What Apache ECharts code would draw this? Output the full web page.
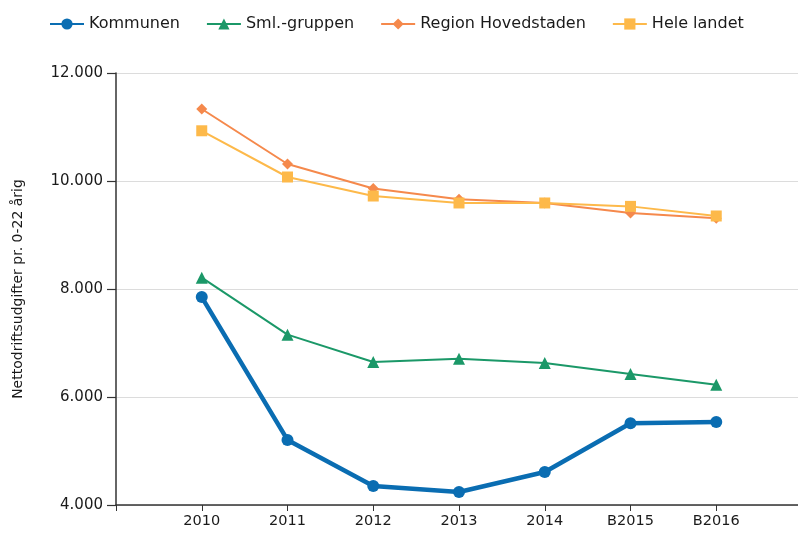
<!DOCTYPE html>
<html>
<head>
<meta charset="utf-8">
<script src="https://cdn.jsdelivr.net/npm/echarts@6/dist/echarts.min.js"></script>
<style>
  html, body { margin: 0; padding: 0; background: #fff; }
  #chart { width: 798px; height: 533px; }
</style>
</head>
<body>
<div id="chart"></div>
<script>
// kategorier (år) og serier
var years = ["2010", "2011", "2012", "2013", "2014", "B2015", "B2016"];
var kommunen = [7850, 5205, 4350, 4240, 4610, 5515, 5537];
var smlGruppen = [8210, 7155, 6648, 6710, 6630, 6426, 6225];
var regionHovedstaden = [11333, 10315, 9860, 9660, 9593, 9407, 9310];
var heleLandet = [10930, 10074, 9722, 9593, 9593, 9530, 9352];
var yTicks = [4000, 6000, 8000, 10000, 12000];

var font = "DejaVu Sans, Verdana, sans-serif";

// tom kategori i hver ende, så akserne ligner originalen
function pad(arr) {
  return [null].concat(arr, [null]);
}

var chart = echarts.init(document.getElementById("chart"));
chart.setOption({
  animation: false,
  textStyle: { fontFamily: font },
  legend: {
    left: 44,
    top: 11,
    itemWidth: 34,
    itemHeight: 14,
    itemGap: 26,
    textStyle: { fontSize: 16, color: "#1a1a1a", fontFamily: font }
  },
  grid: {
    left: 116, right: -4, top: 73, bottom: 28,
    containLabel: false,
    outerBoundsMode: "none"
  },
  xAxis: {
    type: "category",
    boundaryGap: false,
    data: [""].concat(years, [""]),
    axisLine: { lineStyle: { color: "#333", width: 1.5 } },
    axisTick: { length: 6, lineStyle: { color: "#333" } },
    axisLabel: { fontSize: 14.5, color: "#1a1a1a", margin: 9, fontFamily: font },
    splitLine: { show: false }
  },
  yAxis: {
    type: "value",
    min: yTicks[0],
    max: yTicks[yTicks.length - 1],
    interval: 2000,
    name: "Nettodriftsudgifter pr. 0-22 årig",
    nameLocation: "middle",
    nameGap: 91,
    nameTextStyle: { fontSize: 14, color: "#1a1a1a", fontFamily: font },
    axisLine: { show: true, lineStyle: { color: "#333", width: 1.5 } },
    axisTick: { show: true, length: 9, lineStyle: { color: "#333", width: 1.2 } },
    axisLabel: {
      fontSize: 15,
      color: "#1a1a1a",
      margin: 13,
      fontFamily: font,
      formatter: function (v) { return (v / 1000).toFixed(3); }
    },
    splitLine: { lineStyle: { color: "#dcdcdc", width: 1.2 } }
  },
  series: [
    {
      name: "Kommunen",
      type: "line",
      data: pad(kommunen),
      color: "#0a6db2",
      symbol: "circle",
      symbolSize: 12,
      lineStyle: { width: 4.5 }
    },
    {
      name: "Sml.-gruppen",
      type: "line",
      data: pad(smlGruppen),
      color: "#1b9868",
      symbol: "triangle",
      symbolSize: 12,
      lineStyle: { width: 2 }
    },
    {
      name: "Region Hovedstaden",
      type: "line",
      data: pad(regionHovedstaden),
      color: "#f5894c",
      symbol: "diamond",
      symbolSize: 11,
      lineStyle: { width: 2 }
    },
    {
      name: "Hele landet",
      type: "line",
      data: pad(heleLandet),
      color: "#fdb94a",
      symbol: "rect",
      symbolSize: 11,
      lineStyle: { width: 2 }
    }
  ]
});
</script>
</body>
</html>
